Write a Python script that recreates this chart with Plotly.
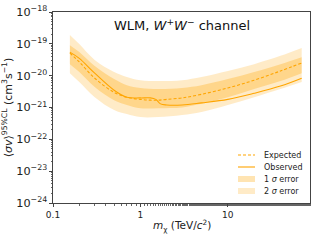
import plotly.graph_objects as go

# masses (TeV/c^2)
mass_exp = [0.156, 0.2, 0.3, 0.5, 0.7, 1.0, 1.3, 1.6, 2.0, 3.0, 5.0, 10.0, 20.0, 40.0, 70.0]
expected = [5.1e-20, 2.7e-20, 8.3e-21, 3.0e-21, 2.1e-21, 1.8e-21, 1.7e-21, 1.7e-21, 1.8e-21,
            2.0e-21, 2.6e-21, 4.1e-21, 7.2e-21, 1.4e-20, 2.5e-20]

mass_obs = [0.156, 0.2, 0.3, 0.5, 0.7, 1.0, 1.3, 1.5, 1.7, 2.0, 3.0, 5.0, 10.0, 20.0, 40.0, 70.0]
observed = [5.5e-20, 3.5e-20, 1.2e-20, 3.5e-21, 2.1e-21, 2.0e-21, 2.0e-21, 1.8e-21, 1.3e-21,
            1.2e-21, 1.2e-21, 1.4e-21, 1.8e-21, 2.8e-21, 4.7e-21, 8.3e-21]

mass_band = [0.156, 0.2, 0.3, 0.5, 0.7, 1.0, 1.6, 3.0, 5.0, 10.0, 20.0, 40.0, 70.0]
sig1_up = [9.1e-20, 5.5e-20, 2.0e-20, 7.8e-21, 5.0e-21, 4.1e-21, 3.8e-21, 4.1e-21, 5.0e-21,
           7.8e-21, 1.3e-20, 2.3e-20, 3.8e-20]
sig1_lo = [2.3e-20, 1.3e-20, 4.4e-21, 1.7e-21, 1.2e-21, 9.5e-22, 9.5e-22, 1.0e-21, 1.3e-21,
           2.1e-21, 3.8e-21, 6.8e-21, 1.2e-20]
sig2_up = [1.9e-19, 9.8e-20, 3.1e-20, 1.3e-20, 9.1e-21, 7.2e-21, 6.8e-21, 7.2e-21, 9.1e-21,
           1.4e-20, 2.3e-20, 4.2e-20, 7.4e-20]
sig2_lo = [1.2e-20, 6.3e-21, 2.1e-21, 8.3e-22, 6.2e-22, 5.0e-22, 5.0e-22, 5.8e-22, 7.2e-22,
           1.2e-21, 2.1e-21, 3.8e-21, 6.3e-21]

legend_labels = ["Expected", "Observed", "1 <i>σ</i> error", "2 <i>σ</i> error"]

ORANGE = "#FFA500"
fill2 = "rgba(255,165,0,0.22)"
fill1 = "rgba(255,165,0,0.30)"

fig = go.Figure()
fig.add_trace(go.Scatter(x=mass_band, y=sig2_lo, mode="lines", line=dict(width=0, shape="spline"),
                         showlegend=False, hoverinfo="skip"))
fig.add_trace(go.Scatter(x=mass_band, y=sig2_up, mode="lines", line=dict(width=0, shape="spline"),
                         fill="tonexty", fillcolor=fill2, showlegend=False))
fig.add_trace(go.Scatter(x=mass_band, y=sig1_lo, mode="lines", line=dict(width=0, shape="spline"),
                         showlegend=False, hoverinfo="skip"))
fig.add_trace(go.Scatter(x=mass_band, y=sig1_up, mode="lines", line=dict(width=0, shape="spline"),
                         fill="tonexty", fillcolor=fill1, showlegend=False))
fig.add_trace(go.Scatter(x=mass_exp, y=expected, mode="lines",
                         line=dict(color=ORANGE, width=1.1, dash="3px,2px", shape="spline"),
                         showlegend=False))
fig.add_trace(go.Scatter(x=mass_obs, y=observed, mode="lines",
                         line=dict(color=ORANGE, width=1.1, shape="spline"),
                         showlegend=False))

# compact legend (matplotlib-like spacing)
row_px = [155, 167, 179, 191]
plot_top, plot_bot, plot_l, plot_w = 12, 203, 53, 257
def py(p):
    return (plot_bot - p) / (plot_bot - plot_top)
def px(p):
    return (p - plot_l) / plot_w
x0, x1, xt = px(238), px(255), px(262)
styles = ["dash", "solid", "fill1", "fill2"]
for lab, r, st in zip(legend_labels, row_px, styles):
    yc = py(r)
    if st in ("dash", "solid"):
        fig.add_shape(type="line", xref="paper", yref="paper", x0=x0, x1=x1, y0=yc, y1=yc,
                      line=dict(color=ORANGE, width=1.1, dash="3px,2px" if st == "dash" else "solid"))
    else:
        h = 3 / (plot_bot - plot_top)
        fig.add_shape(type="rect", xref="paper", yref="paper", x0=x0, x1=x1, y0=yc - h, y1=yc + h,
                      line=dict(width=0), fillcolor=fill1 if st == "fill1" else fill2)
    fig.add_annotation(text=lab, x=xt, y=yc, xref="paper", yref="paper", showarrow=False,
                       xanchor="left", yanchor="middle",
                       font=dict(family="DejaVu Sans", size=8, color="#222"))

axis_common = dict(
    type="log", showgrid=False, zeroline=False, automargin=False,
    showline=True, linecolor="#444", linewidth=1, mirror=True,
    ticks="outside", ticklen=3, tickcolor="#444",
    tickfont=dict(family="DejaVu Sans", size=9, color="#222"),
    minor=dict(ticks="outside", ticklen=1.5, tickcolor="#666", showgrid=False),
)

fig.update_xaxes(**axis_common, range=[-1, 1.94], tickvals=[0.1, 1, 10], ticktext=["0.1", "1", "10"])
fig.update_yaxes(**axis_common, range=[-24, -18], dtick=1, exponentformat="power",
                 title=dict(text="⟨<i>σv</i>⟩<sup>95%CL</sup> (cm<sup>3</sup>s<sup>−1</sup>)",
                            font=dict(family="DejaVu Sans", size=11, color="#222"), standoff=6))

fig.add_annotation(text="<i>m</i><sub>χ</sub> (TeV/<i>c</i><sup>2</sup>)",
                   x=0.5, y=py(226), xref="paper", yref="paper", showarrow=False,
                   xanchor="center", yanchor="middle",
                   font=dict(family="DejaVu Sans", size=10.5, color="#222"))

fig.add_annotation(text="WLM, <i>W</i><sup>+</sup><i>W</i><sup>−</sup> channel",
                   x=0.5, y=py(25), xref="paper", yref="paper", showarrow=False,
                   xanchor="center", yanchor="middle",
                   font=dict(family="DejaVu Sans", size=13, color="#111"))

fig.update_layout(
    width=320, height=240,
    margin=dict(l=53, r=10, t=12, b=37),
    paper_bgcolor="white", plot_bgcolor="white",
    showlegend=False,
)

fig.write_html("out.html", config={"displayModeBar": False},
               post_script="document.body.style.margin='0';document.body.style.overflow='hidden';")
